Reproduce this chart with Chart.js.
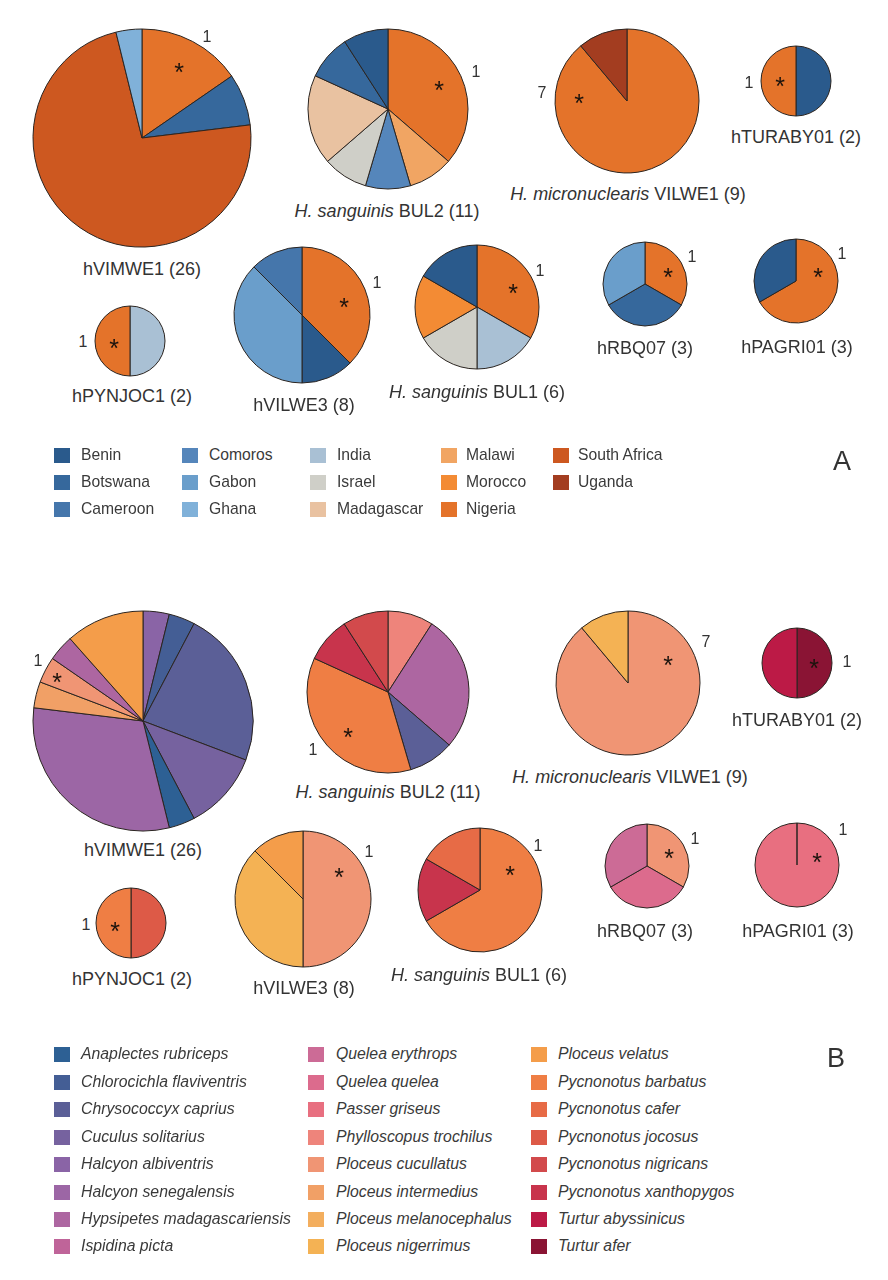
<!DOCTYPE html>
<html>
<head>
<meta charset="utf-8">
<script src="https://cdn.jsdelivr.net/npm/chart.js@4.4.1/dist/chart.umd.min.js"></script>
<style>
  html, body { margin: 0; padding: 0; background: #ffffff; }
  #root { position: relative; width: 888px; height: 1280px; overflow: hidden; font-family: "Liberation Sans", Arial, Helvetica, sans-serif; color: #333333; }
  .t { position: absolute; white-space: nowrap; line-height: 1; transform: translate(-50%, -50%); }
  .ast { position: absolute; white-space: nowrap; line-height: 1; transform: translate(-50%, -28%); color: #1c130d; }
  .lt { position: absolute; white-space: nowrap; line-height: 1; transform: translateY(-50%); color: #3a3a3a; }
  .sw { position: absolute; width: 16px; height: 15px; }
  canvas.pie { position: absolute; }
</style>
</head>
<body>
<div id="root"></div>
<script>
// ---------------- DATA: Panel A (host country) ----------------
const hostA_hVIMWE1 = ["Nigeria", "Botswana", "South Africa", "Ghana"];
const countA_hVIMWE1 = [4, 2, 19, 1];
const hostA_BUL2 = ["Nigeria", "Malawi", "Comoros", "Israel", "Madagascar", "Botswana", "Benin"];
const countA_BUL2 = [4, 1, 1, 1, 2, 1, 1];
const hostA_VILWE1 = ["Nigeria", "Uganda"];
const countA_VILWE1 = [8, 1];
const hostA_TURABY01 = ["Benin", "Nigeria"];
const countA_TURABY01 = [1, 1];
const hostA_PYNJOC1 = ["India", "Nigeria"];
const countA_PYNJOC1 = [1, 1];
const hostA_VILWE3 = ["Nigeria", "Benin", "Gabon", "Cameroon"];
const countA_VILWE3 = [3, 1, 3, 1];
const hostA_BUL1 = ["Nigeria", "India", "Israel", "Morocco", "Benin"];
const countA_BUL1 = [2, 1, 1, 1, 1];
const hostA_RBQ07 = ["Nigeria", "Botswana", "Gabon"];
const countA_RBQ07 = [1, 1, 1];
const hostA_PAGRI01 = ["Nigeria", "Benin"];
const countA_PAGRI01 = [2, 1];

// ---------------- DATA: Panel B (host species) ----------------
const hostB_hVIMWE1 = ["Halcyon albiventris", "Chlorocichla flaviventris", "Chrysococcyx caprius", "Cuculus solitarius", "Anaplectes rubriceps", "Halcyon senegalensis", "Ploceus intermedius", "Ploceus cucullatus", "Hypsipetes madagascariensis", "Ploceus velatus"];
const countB_hVIMWE1 = [1, 1, 6, 3, 1, 8, 1, 1, 1, 3];
const hostB_BUL2 = ["Phylloscopus trochilus", "Hypsipetes madagascariensis", "Chrysococcyx caprius", "Pycnonotus barbatus", "Pycnonotus xanthopygos", "Pycnonotus nigricans"];
const countB_BUL2 = [1, 3, 1, 4, 1, 1];
const hostB_VILWE1 = ["Ploceus cucullatus", "Ploceus nigerrimus"];
const countB_VILWE1 = [8, 1];
const hostB_TURABY01 = ["Turtur afer", "Turtur abyssinicus"];
const countB_TURABY01 = [1, 1];
const hostB_PYNJOC1 = ["Pycnonotus jocosus", "Pycnonotus barbatus"];
const countB_PYNJOC1 = [1, 1];
const hostB_VILWE3 = ["Ploceus cucullatus", "Ploceus nigerrimus", "Ploceus velatus"];
const countB_VILWE3 = [4, 3, 1];
const hostB_BUL1 = ["Pycnonotus barbatus", "Pycnonotus xanthopygos", "Pycnonotus cafer"];
const countB_BUL1 = [4, 1, 1];
const hostB_RBQ07 = ["Ploceus cucullatus", "Quelea quelea", "Quelea erythrops"];
const countB_RBQ07 = [1, 1, 1];
const hostB_PAGRI01 = ["Passer griseus"];
const countB_PAGRI01 = [3];

// ---------------- Labels ----------------
const lineageItalic = ["", "H. sanguinis", "H. micronuclearis", "", "", "", "H. sanguinis", "", ""];
const lineageName = ["hVIMWE1 (26)", "BUL2 (11)", "VILWE1 (9)", "hTURABY01 (2)", "hPYNJOC1 (2)", "hVILWE3 (8)", "BUL1 (6)", "hRBQ07 (3)", "hPAGRI01 (3)"];
const sharedCountA = ["1", "1", "7", "1", "1", "1", "1", "1", "1"];
const sharedCountB = ["1", "1", "7", "1", "1", "1", "1", "1", "1"];
const legendA = ["Benin", "Botswana", "Cameroon", "Comoros", "Gabon", "Ghana", "India", "Israel", "Madagascar", "Malawi", "Morocco", "Nigeria", "South Africa", "Uganda"];
const legendB = ["Anaplectes rubriceps", "Chlorocichla flaviventris", "Chrysococcyx caprius", "Cuculus solitarius", "Halcyon albiventris", "Halcyon senegalensis", "Hypsipetes madagascariensis", "Ispidina picta", "Quelea erythrops", "Quelea quelea", "Passer griseus", "Phylloscopus trochilus", "Ploceus cucullatus", "Ploceus intermedius", "Ploceus melanocephalus", "Ploceus nigerrimus", "Ploceus velatus", "Pycnonotus barbatus", "Pycnonotus cafer", "Pycnonotus jocosus", "Pycnonotus nigricans", "Pycnonotus xanthopygos", "Turtur abyssinicus", "Turtur afer"];

// ---------------- STYLES ----------------
const colorA = {
  "Benin": "#2A5A8C", "Botswana": "#36689C", "Cameroon": "#4576AB", "Comoros": "#5586BB",
  "Gabon": "#6A9ECB", "Ghana": "#80B1D9", "India": "#A9C0D4", "Israel": "#CFCFC8",
  "Madagascar": "#E9C2A1", "Malawi": "#F1A563", "Morocco": "#F38B34", "Nigeria": "#E4732A",
  "South Africa": "#CD5820", "Uganda": "#A33D20"
};
const colorB = {
  "Anaplectes rubriceps": "#2D6094", "Chlorocichla flaviventris": "#445E95", "Chrysococcyx caprius": "#5B5F97",
  "Cuculus solitarius": "#76629F", "Halcyon albiventris": "#8A64A6", "Halcyon senegalensis": "#9C66A5",
  "Hypsipetes madagascariensis": "#AD66A1", "Ispidina picta": "#BF6499", "Quelea erythrops": "#CC6B96",
  "Quelea quelea": "#DC6B8D", "Passer griseus": "#E86F80", "Phylloscopus trochilus": "#EE847B",
  "Ploceus cucullatus": "#F09574", "Ploceus intermedius": "#F1A066", "Ploceus melanocephalus": "#F3AE5E",
  "Ploceus nigerrimus": "#F4B254", "Ploceus velatus": "#F49D4A", "Pycnonotus barbatus": "#EF7E44",
  "Pycnonotus cafer": "#E76B46", "Pycnonotus jocosus": "#DD5A47", "Pycnonotus nigricans": "#D24A4C",
  "Pycnonotus xanthopygos": "#C8344C", "Turtur abyssinicus": "#BC1A46", "Turtur afer": "#8A1434"
};

// layout: centre, radius, title centre, shared-count label, asterisk
const layoutA = [
  { cx: 142, cy: 138, r: 109, tx: 142, ty: 269, nx: 207, ny: 37, ax: 179, ay: 67 },
  { cx: 388, cy: 109, r: 80, tx: 387, ty: 211, nx: 476, ny: 72, ax: 439, ay: 85 },
  { cx: 627, cy: 101, r: 72, tx: 628, ty: 194, nx: 542, ny: 93, ax: 579, ay: 98 },
  { cx: 796, cy: 81, r: 35, tx: 796, ty: 137, nx: 749, ny: 83, ax: 780, ay: 81 },
  { cx: 130, cy: 341, r: 35, tx: 132, ty: 396, nx: 83, ny: 342, ax: 114, ay: 343 },
  { cx: 302, cy: 315, r: 68, tx: 304, ty: 405, nx: 377, ny: 283, ax: 344, ay: 302 },
  { cx: 477, cy: 307, r: 62, tx: 477, ty: 392, nx: 540, ny: 271, ax: 513, ay: 288 },
  { cx: 645, cy: 284, r: 42, tx: 645, ty: 348, nx: 692, ny: 257, ax: 668, ay: 272 },
  { cx: 796, cy: 281, r: 42, tx: 797, ty: 347, nx: 842, ny: 254, ax: 818, ay: 272 }
];
const layoutB = [
  { cx: 143, cy: 721, r: 110, tx: 143, ty: 850, nx: 38, ny: 661, ax: 57, ay: 677 },
  { cx: 388, cy: 692, r: 81, tx: 388, ty: 792, nx: 313, ny: 750, ax: 348, ay: 732 },
  { cx: 628, cy: 683, r: 72, tx: 630, ty: 777, nx: 706, ny: 642, ax: 668, ay: 660 },
  { cx: 797, cy: 663, r: 35, tx: 797, ty: 720, nx: 847, ny: 662, ax: 814, ay: 663 },
  { cx: 131, cy: 923, r: 35, tx: 132, ty: 979, nx: 86, ny: 925, ax: 115, ay: 926 },
  { cx: 303, cy: 899, r: 68, tx: 304, ty: 988, nx: 369, ny: 852, ax: 339, ay: 872 },
  { cx: 480, cy: 890, r: 62, tx: 479, ty: 975, nx: 538, ny: 846, ax: 510, ay: 870 },
  { cx: 647, cy: 866, r: 42, tx: 645, ty: 931, nx: 695, ny: 839, ax: 669, ay: 853 },
  { cx: 797, cy: 865, r: 42, tx: 798, ty: 931, nx: 843, ny: 830, ax: 817, ay: 857 }
];

const piesA = [
  [hostA_hVIMWE1, countA_hVIMWE1], [hostA_BUL2, countA_BUL2], [hostA_VILWE1, countA_VILWE1],
  [hostA_TURABY01, countA_TURABY01], [hostA_PYNJOC1, countA_PYNJOC1], [hostA_VILWE3, countA_VILWE3],
  [hostA_BUL1, countA_BUL1], [hostA_RBQ07, countA_RBQ07], [hostA_PAGRI01, countA_PAGRI01]
];
const piesB = [
  [hostB_hVIMWE1, countB_hVIMWE1], [hostB_BUL2, countB_BUL2], [hostB_VILWE1, countB_VILWE1],
  [hostB_TURABY01, countB_TURABY01], [hostB_PYNJOC1, countB_PYNJOC1], [hostB_VILWE3, countB_VILWE3],
  [hostB_BUL1, countB_BUL1], [hostB_RBQ07, countB_RBQ07], [hostB_PAGRI01, countB_PAGRI01]
];

const root = document.getElementById('root');

function addText(cls, html, x, y, size, extra) {
  const d = document.createElement('div');
  d.className = cls;
  d.innerHTML = html;
  d.style.left = x + 'px';
  d.style.top = y + 'px';
  d.style.fontSize = size + 'px';
  if (extra) Object.assign(d.style, extra);
  root.appendChild(d);
  return d;
}

function drawPie(labels, values, colors, L) {
  const pad = 4;
  const S = Math.round(2 * L.r + 2 * pad);
  const c = document.createElement('canvas');
  c.className = 'pie';
  c.width = S; c.height = S;
  c.style.width = S + 'px'; c.style.height = S + 'px';
  c.style.left = (L.cx - S / 2) + 'px';
  c.style.top = (L.cy - S / 2) + 'px';
  root.appendChild(c);
  new Chart(c, {
    type: 'pie',
    data: {
      labels: labels,
      datasets: [{
        data: values,
        backgroundColor: labels.map(l => colors[l]),
        borderColor: '#2a2420',
        borderWidth: 1,
        borderJoinStyle: 'miter'
      }]
    },
    options: {
      responsive: false,
      animation: false,
      events: [],
      radius: L.r,
      layout: { padding: 0 },
      plugins: { legend: { display: false }, tooltip: { enabled: false } }
    }
  });
}

function drawPanel(pies, layout, colors, counts) {
  pies.forEach((p, i) => {
    const L = layout[i];
    drawPie(p[0], p[1], colors, L);
    const it = lineageItalic[i];
    const title = (it ? '<i>' + it + '</i> ' : '') + lineageName[i];
    addText('t', title, L.tx, L.ty, 18);
    addText('t', counts[i], L.nx, L.ny, 16);
    addText('ast', '*', L.ax, L.ay, 25);
  });
}

drawPanel(piesA, layoutA, colorA, sharedCountA);
drawPanel(piesB, layoutB, colorB, sharedCountB);

// Legend A: 5 columns x 3 rows
const legAcolSw = [54, 182, 310, 441, 553];
const legAcolTx = [81, 209, 337, 466, 578];
const legArowY = [455, 482, 509];
legendA.forEach((name, i) => {
  const col = Math.floor(i / 3), row = i % 3;
  const sw = document.createElement('div');
  sw.className = 'sw';
  sw.style.left = legAcolSw[col] + 'px';
  sw.style.top = (legArowY[row] - 7.5) + 'px';
  sw.style.background = colorA[name];
  root.appendChild(sw);
  addText('lt', name, legAcolTx[col], legArowY[row], 15.7);
});
addText('t', 'A', 842, 461, 27, { color: '#333' });

// Legend B: 3 columns x 8 rows
const legBcolSw = [54, 308, 531];
const legBcolTx = [81, 336, 558];
const legBrowY = [1054, 1082, 1109, 1137, 1164, 1192, 1219, 1246];
legendB.forEach((name, i) => {
  const col = Math.floor(i / 8), row = i % 8;
  const sw = document.createElement('div');
  sw.className = 'sw';
  sw.style.left = legBcolSw[col] + 'px';
  sw.style.top = (legBrowY[row] - 7.5) + 'px';
  sw.style.background = colorB[name];
  root.appendChild(sw);
  addText('lt', '<i>' + name + '</i>', legBcolTx[col], legBrowY[row], 15.8);
});
addText('t', 'B', 836, 1058, 27, { color: '#333' });
</script>
</body>
</html>
